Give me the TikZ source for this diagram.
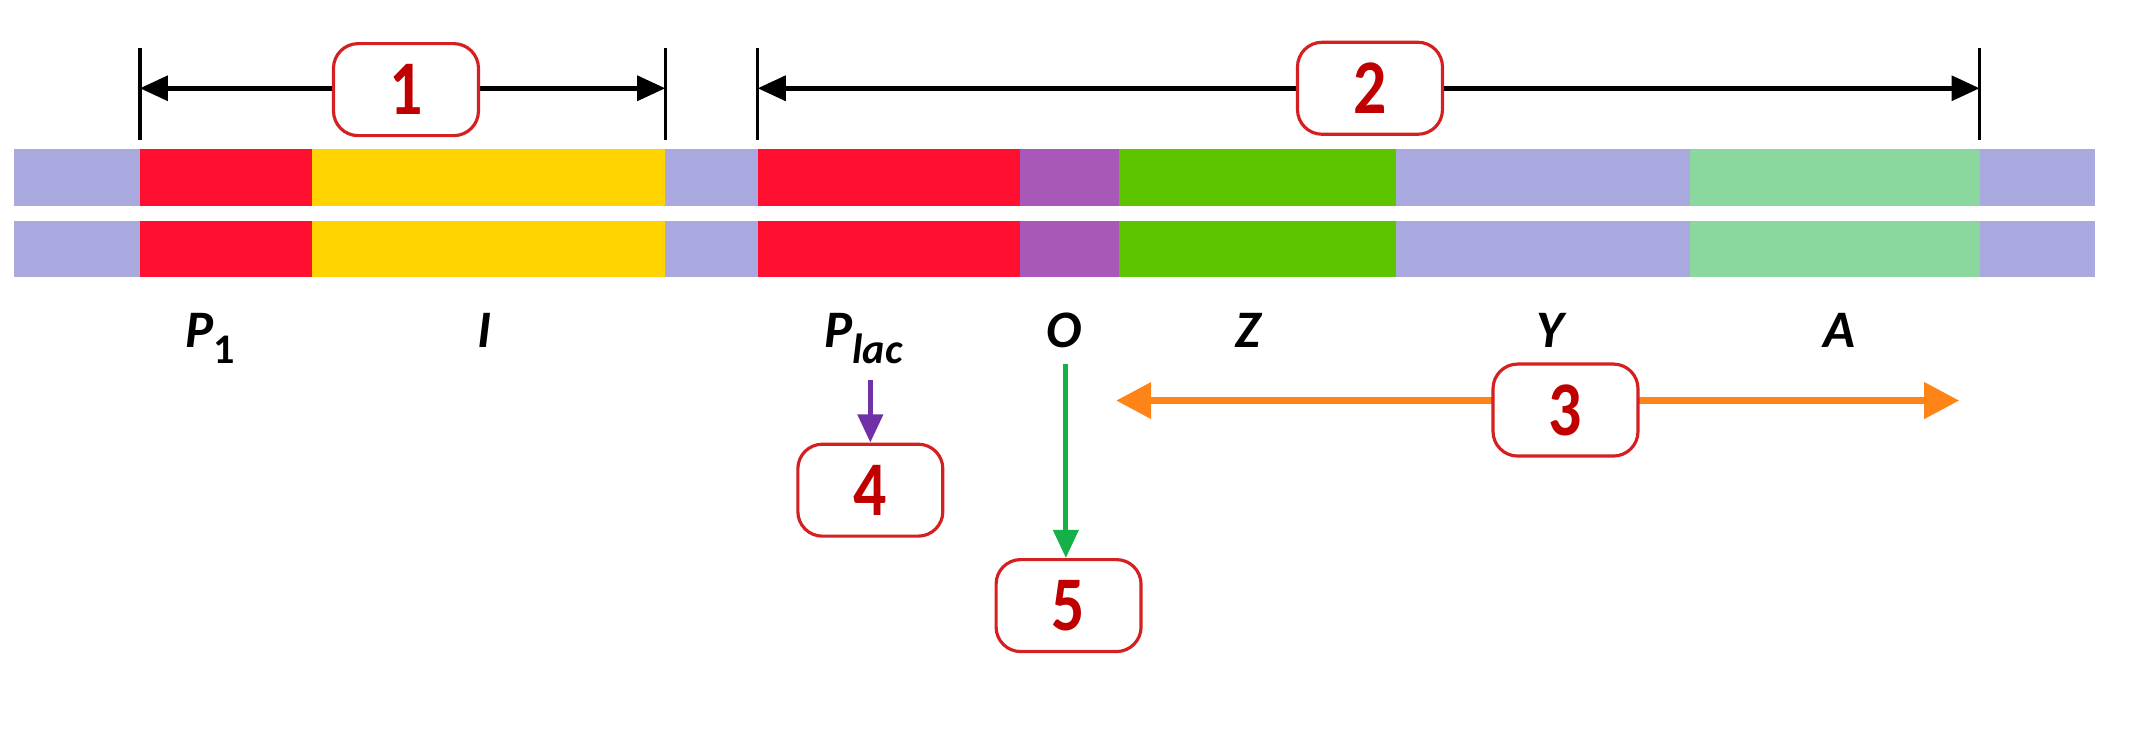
\documentclass[tikz,border=0pt]{standalone}
\usepackage{fontspec}
\setmainfont{Carlito}
\usetikzlibrary{arrows.meta}
\definecolor{lav}{HTML}{A9A9E0}
\definecolor{segred}{HTML}{FF1030}
\definecolor{segyel}{HTML}{FFD400}
\definecolor{segpur}{HTML}{A858B8}
\definecolor{seggrn}{HTML}{5CC500}
\definecolor{seglgr}{HTML}{8AD89E}
\definecolor{boxred}{HTML}{D42020}
\definecolor{numred}{HTML}{C00000}
\definecolor{arrorange}{HTML}{FF8418}
\definecolor{arrgreen}{HTML}{14B048}
\definecolor{arrpurple}{HTML}{7030A8}
\newcommand{\lowsub}[1]{\raisebox{-4.5pt}{\fontsize{12}{12}\selectfont #1}}
\newcommand{\numtxt}[1]{\scalebox{0.85}[1]{#1}}
\begin{document}
\begin{tikzpicture}[x=0.013578cm,y=-0.013578cm,
  numbox/.style={draw=boxred, line width=0.9pt, rounded corners=7pt, fill=white,
    minimum width=1.45cm, minimum height=0.92cm, inner sep=0pt,
    font=\fontsize{22}{22}\selectfont\bfseries, text=numred},
  lbl/.style={anchor=base, inner sep=0pt, font=\fontsize{15}{15}\selectfont\bfseries\itshape},
  tickline/.style={line width=1pt, black},
  dimarrow/.style={line width=1.3pt, black, {Triangle[length=8pt,width=7pt]}-{Triangle[length=8pt,width=7pt]}},
  ]
\useasboundingbox (0,0) rectangle (1568,544);
\fill[white] (0,0) rectangle (1568,544);
% DNA strands
\foreach \ya/\yb in {110/152,163/204}{
  \fill[lav] (10,\ya) rectangle (1543,\yb);
  \fill[segred] (103,\ya) rectangle (230,\yb);
  \fill[segyel] (230,\ya) rectangle (490,\yb);
  \fill[segred] (558,\ya) rectangle (751,\yb);
  \fill[segpur] (751,\ya) rectangle (824,\yb);
  \fill[seggrn] (824,\ya) rectangle (1028,\yb);
  \fill[seglgr] (1245,\ya) rectangle (1458,\yb);
}
% brackets
\draw[tickline] (103,35) -- (103,103);
\draw[tickline] (490,35) -- (490,103);
\draw[tickline] (558,35) -- (558,103);
\draw[tickline] (1458,35) -- (1458,103);
\coordinate (b1l) at (103,65);
\coordinate (b1r) at (490,65);
\coordinate (b2l) at (558,65);
\coordinate (b2r) at (1458,65);
\draw[dimarrow] (b1l) -- (b1r);
\draw[dimarrow] (b2l) -- (b2r);
% orange arrow
\coordinate (o1) at (822,295);
\coordinate (o2) at (1443,295);
\draw[arrorange, line width=2pt, {Triangle[length=10pt,width=10pt]}-{Triangle[length=10pt,width=10pt]}] (o1) -- (o2);
% number boxes
\node[numbox] (n1) at (299,66) {\numtxt{1}};
\node[numbox] (n2) at (1009,65) {\numtxt{2}};
\node[numbox] (n3) at (1153,302) {\numtxt{3}};
\node[numbox] (n4) at (641,361) {\numtxt{4}};
\node[numbox] (n5) at (787,446) {\numtxt{5}};
% labels
\node[lbl] (lp1) at (155,256) {P\lowsub{\upshape 1}};
\node[lbl] (li) at (357,256) {I};
\node[lbl] (lplac) at (636,256) {P\lowsub{lac}};
\node[lbl] (lo) at (784,256) {O};
\node[lbl] (lz) at (919,256) {Z};
\node[lbl] (ly) at (1142,256) {Y};
\node[lbl] (la) at (1355,256) {A};
% vertical arrows
\coordinate (ps) at (641,280);
\draw[arrpurple, line width=1.5pt, -{Triangle[length=8pt,width=7pt]}] (ps) -- (n4.north);
\coordinate (gs) at (785,268);
\draw[arrgreen, line width=1.5pt, -{Triangle[length=8pt,width=7pt]}] (gs) -- (gs |- n5.north);
\end{tikzpicture}
\end{document}
